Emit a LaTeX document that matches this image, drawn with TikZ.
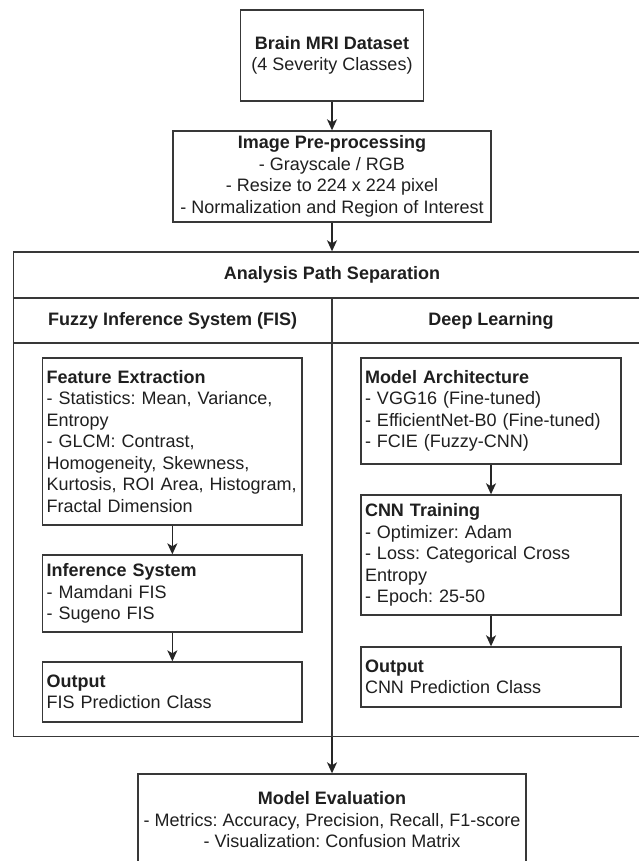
\documentclass[tikz,border=0pt]{standalone}
\usepackage{fontspec}
\setmainfont{Liberation Sans}
\usetikzlibrary{arrows.meta}
\frenchspacing
\begin{document}
\begin{tikzpicture}[x=1pt,y=-1pt,
  txt/.style={font=\fontsize{18pt}{21.5pt}\selectfont\frenchspacing, text=black!88},
  box/.style={draw=black!78, line width=1.4pt, txt, inner sep=0pt},
  cbox/.style={box, align=center},
  lbox/.style={box, align=left, text width=251.3pt, inner xsep=4pt},
  rbox/.style={box, align=left, text width=252pt, inner xsep=4pt},
  arr/.style={draw=black!85, line width=1.4pt, -{Stealth[length=11pt,width=10pt,inset=3pt]}},
  lne/.style={draw=black!78, line width=1.4pt}]
\useasboundingbox (0,0) rectangle (638,861);
\fill[white] (0,0) rectangle (638,861);

% top boxes
\node[cbox, minimum width=183pt, minimum height=91pt] (brain) at (332,55.5)
  {\textbf{Brain MRI Dataset}\\(4 Severity Classes)};
\node[cbox, minimum width=318pt, minimum height=91pt] (pre) at (332,176.5)
  {\textbf{Image Pre-processing}\\- Grayscale / RGB\\- Resize to 224 x 224 pixel\\- Normalization and Region of Interest};

% analysis frame
\node[box, minimum width=637.1pt, minimum height=484.7pt] (frame) at (332,494.35) {};
\coordinate (h1) at (0,298);
\coordinate (h2) at (0,343);
\draw[lne] (frame.west |- h1) -- (frame.east |- h1);
\draw[lne] (frame.west |- h2) -- (frame.east |- h2);
\draw[lne] (frame.south |- h1) -- (frame.south);
\node[txt] (title) at (332,275) {\textbf{Analysis Path Separation}};
\node[txt] (fis) at (172.7,321) {\textbf{Fuzzy Inference System (FIS)}};
\node[txt] (dl) at (491,321) {\textbf{Deep Learning}};

% left column
\node[lbox, minimum height=167pt] (feat) at (172.35,441.5)
  {\textbf{Feature Extraction}\\- Statistics: Mean, Variance,\\Entropy\\- GLCM: Contrast,\\Homogeneity, Skewness,\\Kurtosis, ROI Area, Histogram,\\Fractal Dimension};
\node[lbox, minimum height=77pt] (inf) at (172.35,593.5)
  {\textbf{Inference System}\\- Mamdani FIS\\- Sugeno FIS};
\node[lbox, minimum height=60pt] (outl) at (172.35,692)
  {\textbf{Output}\\FIS Prediction Class};

% right column
\node[rbox, minimum height=106pt] (arch) at (491,411)
  {\textbf{Model Architecture}\\- VGG16 (Fine-tuned)\\- EfficientNet-B0 (Fine-tuned)\\- FCIE (Fuzzy-CNN)};
\node[rbox, minimum height=120pt] (train) at (491,555)
  {\textbf{CNN Training}\\- Optimizer: Adam\\- Loss: Categorical Cross\\Entropy\\- Epoch: 25-50};
\node[rbox, minimum height=60pt] (outr) at (491,677)
  {\textbf{Output}\\CNN Prediction Class};

% evaluation
\node[cbox, minimum width=387.7pt, minimum height=92pt] (eval) at (332,820)
  {\textbf{Model Evaluation}\\- Metrics: Accuracy, Precision, Recall, F1-score\\- Visualization: Confusion Matrix};

% connectors
\draw[arr] (brain.south) -- (pre.north);
\draw[arr] (pre.south) -- (frame.north);
\draw[arr] (feat.south) -- (inf.north);
\draw[arr] (inf.south) -- (outl.north);
\draw[arr] (arch.south) -- (train.north);
\draw[arr] (train.south) -- (outr.north);
\draw[arr] (frame.south) -- (eval.north);
\end{tikzpicture}
\end{document}
